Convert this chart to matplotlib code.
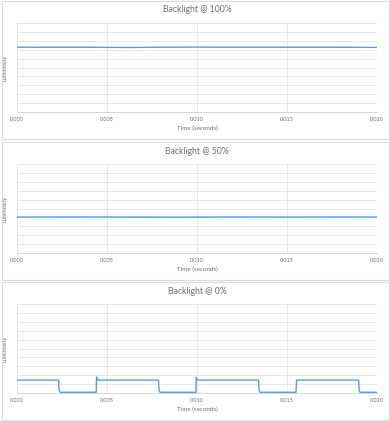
import matplotlib
matplotlib.use("Agg")
import matplotlib.pyplot as plt
from matplotlib.patches import Rectangle

plt.rcParams['font.family'] = ['Lato', 'DejaVu Sans']

titles = ["Backlight @ 100%", "Backlight @ 50%", "Backlight @ 0%"]
x_ticks = [0.000, 0.005, 0.010, 0.015, 0.020]
x_tick_labels = ["0.000", "0.005", "0.010", "0.015", "0.020"]

# Series (time in seconds, luminosity in arbitrary units 0-10)
t_100 = [0.000, 0.002, 0.004, 0.0065, 0.008, 0.010, 0.012, 0.014, 0.016, 0.018, 0.020]
y_100 = [7.28, 7.27, 7.27, 7.25, 7.28, 7.29, 7.28, 7.28, 7.27, 7.27, 7.26]

t_50 = [0.000, 0.003, 0.006, 0.009, 0.012, 0.015, 0.018, 0.020]
y_50 = [4.04, 4.05, 4.04, 4.03, 4.05, 4.04, 4.05, 4.04]

t_0 = [0.0000, 0.00231, 0.00234, 0.00240, 0.00440, 0.00442, 0.00446, 0.00460,
       0.00786, 0.00789, 0.00795, 0.00994, 0.00996, 0.01000, 0.01012,
       0.01342, 0.01345, 0.01350, 0.01550, 0.01553, 0.01898, 0.01901, 0.01906, 0.02000]
y_0 = [1.45, 1.45, 0.30, 0.08, 0.08, 1.80, 1.50, 1.45,
       1.45, 0.30, 0.08, 0.08, 1.75, 1.50, 1.45,
       1.45, 0.30, 0.08, 0.08, 1.45, 1.45, 0.30, 0.08, 0.08]

series = [(t_100, y_100), (t_50, y_50), (t_0, y_0)]

W, H = 390, 421
fig = plt.figure(figsize=(W / 100, H / 100), dpi=100)

panel_tops = [0, 141, 281]
panel_h = 139
text_col = "#6E6E6E"
grid_col = "#E3E3E3"
line_col = "#5B9BD5"

for i, (top, (tx, ty)) in enumerate(zip(panel_tops, series)):
    # panel border
    fig.patches.append(Rectangle((1.5 / W, 1 - (top + panel_h) / H), (W - 3) / W, (panel_h - 0.5) / H,
                                 transform=fig.transFigure, fill=False, edgecolor="#DADADA",
                                 linewidth=0.8))
    left, right = 17, 377
    ptop, pbot = top + 23, top + 112
    ax = fig.add_axes([left / W, 1 - pbot / H, (right - left) / W, (pbot - ptop) / H])
    ax.plot(tx, ty, color=line_col, linewidth=1.0)
    ax.set_xlim(0, 0.02)
    ax.set_ylim(0, 10)
    ax.set_xticks(x_ticks)
    ax.set_xticklabels(x_tick_labels)
    ax.set_yticks(range(0, 11))
    ax.set_yticklabels([])
    ax.tick_params(axis='both', length=0, labelsize=4, colors=text_col, pad=3.5)
    ax.grid(True, color=grid_col, linewidth=0.6)
    ax.set_axisbelow(True)
    for s in ax.spines.values():
        s.set_visible(False)
    ax.spines['bottom'].set_visible(True)
    ax.spines['bottom'].set_color("#D0D0D0")
    ax.spines['bottom'].set_linewidth(0.6)
    ax.set_xlabel("Time (seconds)", fontsize=4.5, color=text_col, labelpad=3)
    ax.set_ylabel("Luminosity", fontsize=4, color=text_col, labelpad=3)
    fig.text(0.5 * (left + right) / W, 1 - (top + 10) / H, titles[i], ha='center', va='center',
             fontsize=6.2, color=text_col)

fig.savefig("out.png", dpi=100)
